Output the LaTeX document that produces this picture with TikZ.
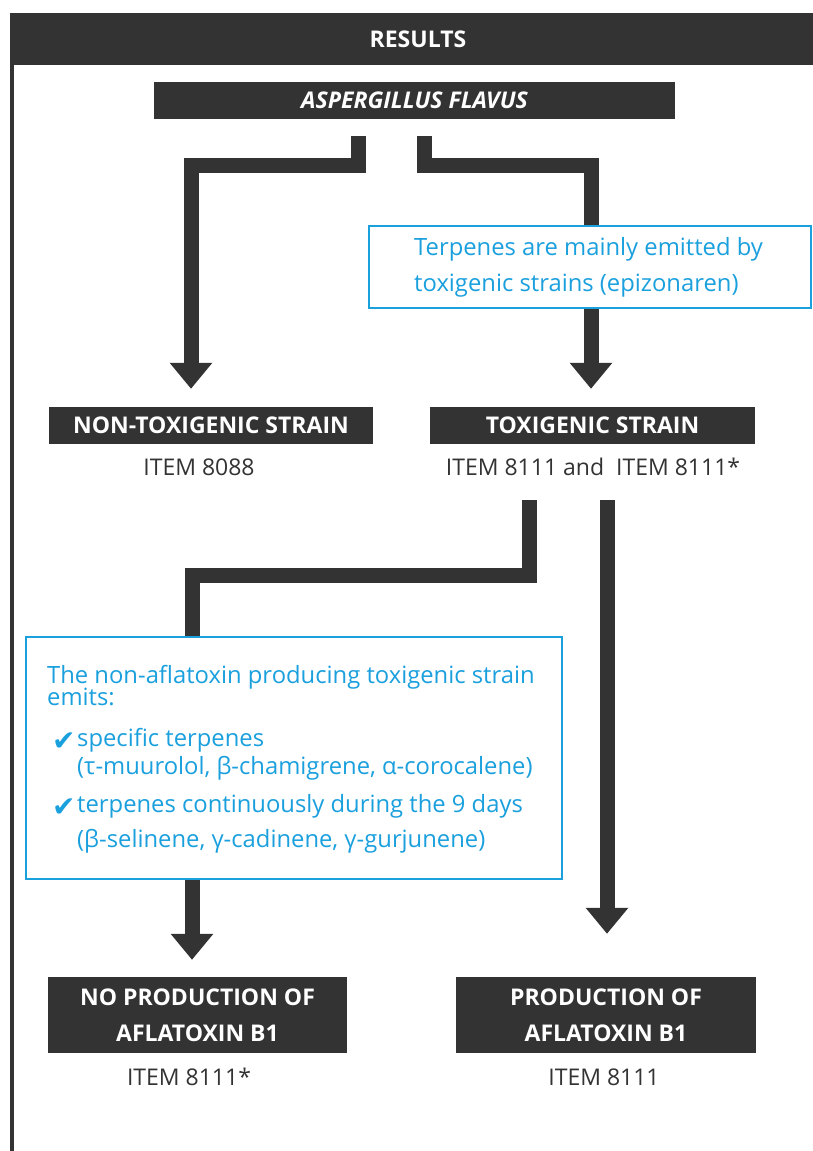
\documentclass[tikz,border=0pt]{standalone}
\usepackage{fontspec}
\setmainfont{Open Sans}
\newfontfamily\symfont{DejaVu Sans}
\usetikzlibrary{arrows.meta}
\definecolor{dark}{HTML}{333333}
\definecolor{tblue}{RGB}{27,160,222}
\begin{document}
\begin{tikzpicture}[x=1pt,y=-1pt,
  darkbox/.style={fill=dark, text=white, inner sep=0pt, align=center,
    font=\bfseries\fontsize{23}{36}\selectfont},
  itemlabel/.style={text=dark, inner sep=0pt, font=\fontsize{23}{25}\selectfont},
  bluebox/.style={draw=tblue, line width=1.2pt, fill=white, inner sep=0pt},
  bluetext/.style={text=tblue, inner sep=0pt, anchor=base west, font=\fontsize{23.8}{26}\selectfont},
  checkmark/.style={text=tblue, inner sep=0pt, anchor=base west, font=\symfont\fontsize{28}{28}\selectfont},
  conn/.style={draw=dark, line width=15pt, line join=miter,
    -{Triangle[width=41pt,length=26pt]}}
]
\useasboundingbox (0,0) rectangle (812,1151);
% frame
\draw[dark, line width=4pt] (12,13) -- (12,1151);
\node[darkbox, minimum width=816pt, minimum height=52pt] (head) at (418,39) {RESULTS};

% boxes
\node[darkbox, minimum width=521pt, minimum height=37pt] (asp) at (414.5,100.5) {\itshape ASPERGILLUS FLAVUS};
\node[darkbox, minimum width=324pt, minimum height=37pt] (nontox) at (211,425.5) {NON-TOXIGENIC STRAIN};
\node[darkbox, minimum width=325pt, minimum height=37pt] (tox) at (592.5,425.5) {TOXIGENIC STRAIN};
\node[darkbox, minimum width=299pt, minimum height=76pt] (noprod) at (197.5,1015) {NO PRODUCTION OF\\AFLATOXIN B1};
\node[darkbox, minimum width=300pt, minimum height=76pt] (prod) at (606,1015) {PRODUCTION OF\\AFLATOXIN B1};

\node[itemlabel] (i1) at (199,467) {ITEM 8088};
\node[itemlabel] (i2) at (593,467) {ITEM 8111 and\ \ ITEM 8111*};
\node[itemlabel] (i3) at (189,1077) {ITEM 8111*};
\node[itemlabel] (i4) at (604,1077) {ITEM 8111};

% connectors
\coordinate (a1) at (358,136);
\coordinate (b1) at (424,136);
\coordinate (c1) at (529,500);
\coordinate (d1) at (607,500);
\draw[conn, shorten >=18pt] (a1) -- ++(0,29) -| ([xshift=-20pt]nontox.north);
\draw[conn, shorten >=18pt] (b1) -- ++(0,29) -| ([xshift=-1.5pt]tox.north);
\draw[conn, shorten >=17pt] (c1) -- ++(0,75) -| ([xshift=-5.5pt]noprod.north);
\draw[conn, shorten >=43pt] (d1) -- (d1 |- prod.north);

% blue boxes
\node[bluebox, minimum width=442pt, minimum height=82pt] (terp) at (590,267) {};
\node[bluetext] (t1) at (414,255) {Terpenes are mainly emitted by};
\node[bluetext] (t2) at (414,291) {toxigenic strains (epizonaren)};

\node[bluebox, minimum width=536pt, minimum height=242pt] (blue) at (294,758) {};
\node[bluetext] (b1t) at (47,683) {The non-aflatoxin producing toxigenic strain};
\node[bluetext] (b2t) at (47,705) {emits:};
\node[checkmark] (c1m) at (52,750) {✔};
\node[bluetext] (b3t) at (77,746) {specific terpenes};
\node[bluetext] (b4t) at (77,774) {(τ-muurolol, β-chamigrene, α-corocalene)};
\node[checkmark] (c2m) at (52,816) {✔};
\node[bluetext] (b5t) at (77,812) {terpenes continuously during the 9 days};
\node[bluetext] (b6t) at (77,847) {(β-selinene, γ-cadinene, γ-gurjunene)};
\end{tikzpicture}
\end{document}
